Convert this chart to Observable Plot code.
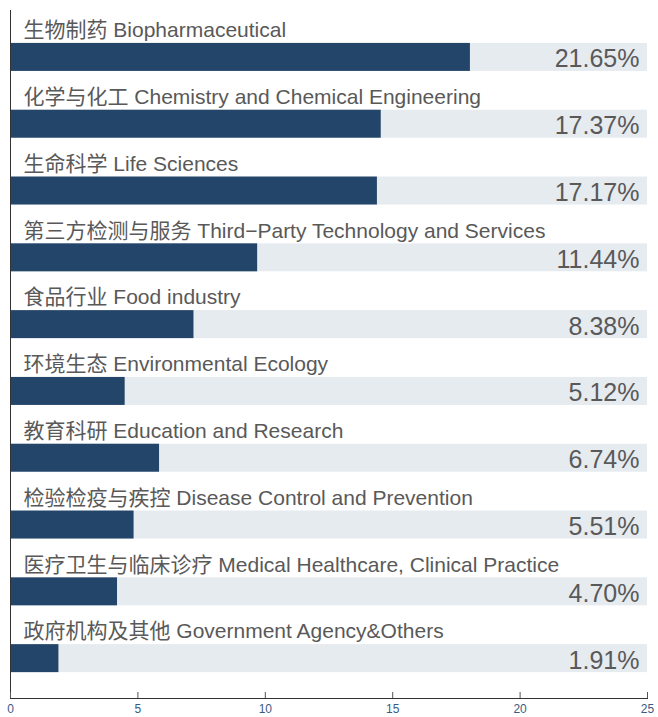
<!DOCTYPE html>
<html><head><meta charset="utf-8">
<script src="https://cdn.jsdelivr.net/npm/d3@7"></script>
<script src="https://cdn.jsdelivr.net/npm/@observablehq/plot@0.6"></script>
<style>body{margin:0;background:#fff}</style>
</head><body><div id="chart"></div>
<script>
const categories = [
  "生物制药 Biopharmaceutical",
  "化学与化工 Chemistry and Chemical Engineering",
  "生命科学 Life Sciences",
  "第三方检测与服务 Third−Party Technology and Services",
  "食品行业 Food industry",
  "环境生态 Environmental Ecology",
  "教育科研 Education and Research",
  "检验检疫与疾控 Disease Control and Prevention",
  "医疗卫生与临床诊疗 Medical Healthcare, Clinical Practice",
  "政府机构及其他 Government Agency&Others"
];
const barValues = [18.05, 14.55, 14.4, 9.7, 7.2, 4.5, 5.85, 4.85, 4.2, 1.9];
const pctLabels = ["21.65%", "17.37%", "17.17%", "11.44%", "8.38%", "5.12%", "6.74%", "5.51%", "4.70%", "1.91%"];
const xTicks = [0, 5, 10, 15, 20, 25];
const xMax = 25;

const data = categories.map((c, i) => ({category: c, value: barValues[i], pct: pctLabels[i], full: xMax}));
const font = "'Liberation Sans', Arial, 'Noto Sans CJK SC', sans-serif";

const chart = Plot.plot({
  width: 658, height: 717,
  marginTop: 10, marginBottom: 19, marginLeft: 10, marginRight: 11,
  style: {fontFamily: font, background: "#fff"},
  x: {domain: [0, xMax], ticks: xTicks},
  y: {domain: categories, paddingInner: 0.581, paddingOuter: 0.44, align: 0.56, round: false, axis: null},
  marks: [
    Plot.barX(data, {x: "full", y: "category", fill: "#e6ebf0"}),
    Plot.barX(data, {x: "value", y: "category", fill: "#24456a"}),
    Plot.text(data, {x: 0, y: "category", text: "category", textAnchor: "start", dx: 13, dy: -27, fontSize: 21, fill: "#595959"}),
    Plot.text(data, {x: xMax, y: "category", text: "pct", textAnchor: "end", dx: -8, dy: 2, fontSize: 25, fill: "#595959"}),
    Plot.ruleX([0], {stroke: "#333"}),
    Plot.frame({anchor: "bottom", stroke: "#333"}),
    Plot.axisX({ticks: xTicks, tickSize: 6, dy: -6, text: null, stroke: "#555"}),
    Plot.axisX({ticks: xTicks, tickSize: 0, tickPadding: 6, fontSize: 12, fill: "#3b5b83", label: null})
  ]
});
document.getElementById("chart").append(chart);
</script>
</body></html>
